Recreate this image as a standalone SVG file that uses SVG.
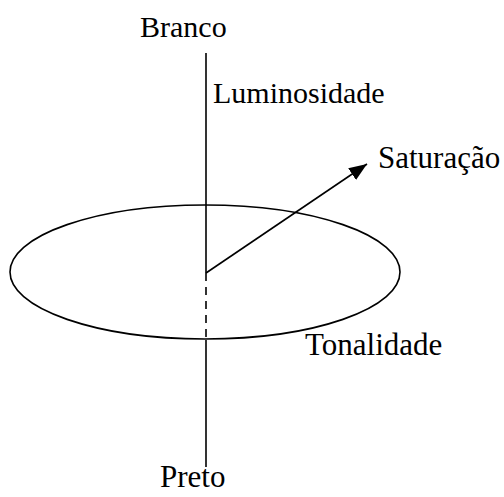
<svg xmlns="http://www.w3.org/2000/svg" width="504" height="497" viewBox="0 0 504 497">
<style>
.l{stroke:#000;stroke-width:1.6;fill:none}
.t{font-family:"Liberation Serif","Times New Roman",serif;fill:#000}
</style>
<defs><marker id="ah" markerUnits="userSpaceOnUse" markerWidth="20" markerHeight="14" refX="18" refY="7" orient="auto"><path d="M0,0 L18,7 L0,14 z" fill="#000"/></marker></defs>
<g id="connectors">
<line class="l" x1="206" y1="53" x2="206" y2="273"/>
<line class="l" x1="206" y1="273" x2="206" y2="339" stroke-dasharray="8,6"/>
<line class="l" x1="206" y1="340" x2="206" y2="467"/>
<line class="l" x1="206" y1="273" x2="367" y2="164" marker-end="url(#ah)"/>
</g>
<g id="ellipse"><ellipse class="l" cx="205" cy="272" rx="195" ry="67"/></g>
<g id="branco"><text class="t" x="140" y="37" font-size="30">Branco</text></g>
<g id="luminosidade"><text class="t" x="213" y="103" font-size="30">Luminosidade</text></g>
<g id="saturacao"><text class="t" x="378" y="168" font-size="31">Saturação</text></g>
<g id="tonalidade"><text class="t" x="305" y="355" font-size="31">Tonalidade</text></g>
<g id="preto"><text class="t" x="160" y="487" font-size="31">Preto</text></g>
</svg>
